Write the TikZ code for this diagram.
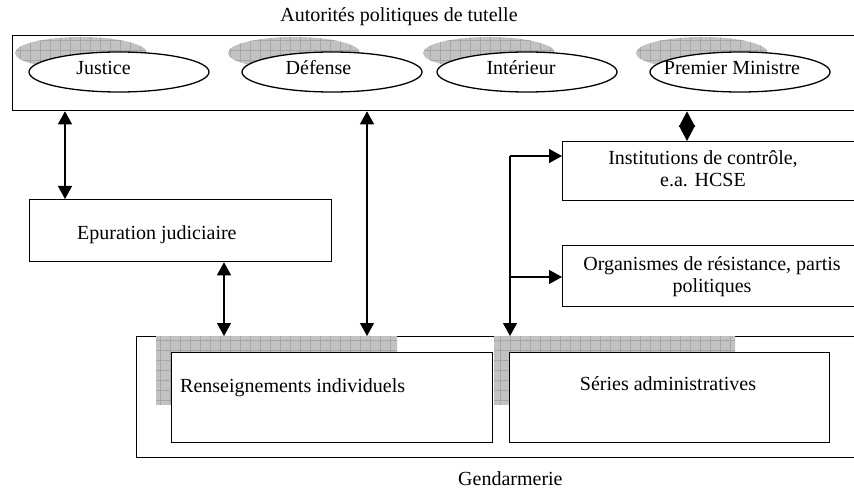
\documentclass[tikz,border=0pt]{standalone}
\usepackage{fontspec}
\setmainfont{Liberation Serif}
\usetikzlibrary{arrows.meta,shapes.geometric}
\tikzset{
  lw/.style={line width=1.3pt},
  box/.style={draw, lw, fill=white, rectangle, inner sep=0pt, anchor=north west},
  oval/.style={draw, lw, fill=white, ellipse, inner sep=0pt, minimum width=180pt, minimum height=40pt},
  txt/.style={font=\fontsize{20}{22.5}\selectfont, inner sep=0pt},
  shfill/.style={fill=gray!48},
  shgrid/.style={draw=gray!70, line width=0.6pt},
  con/.style={lw, {Triangle[length=13pt,width=14pt]}-{Triangle[length=13pt,width=14pt]}},
  oneway/.style={lw, -{Triangle[length=13pt,width=14pt]}},
  dia/.style={lw, {Triangle[length=15.5pt,width=16pt]}-{Triangle[length=15.5pt,width=16pt]}}
}
\begin{document}
\begin{tikzpicture}[x=1pt,y=-1pt]
\useasboundingbox (0,0) rectangle (854,489);
\clip (0,0) rectangle (854,489);
\fill[white] (0,0) rectangle (854,489);

% title
\node[txt, anchor=base] (title) at (399,22) {Autorités politiques de tutelle};

% top box
\node[box, minimum width=860pt, minimum height=75pt] (top) at (12,35) {};

% ellipse shadows
\foreach \cx in {119,332,527,740}{
  \begin{scope}
    \clip (\cx-38,53) ellipse [x radius=66, y radius=16];
    \fill[shfill] (\cx-110,30) rectangle (\cx+40,75);
    \draw[shgrid, step=10pt] (\cx-110,30) grid (\cx+40,75);
  \end{scope}
}
% ellipses
\node[oval] (jus) at (119,72) {};
\node[oval] (def) at (332,72) {};
\node[oval] (int) at (527,72) {};
\node[oval] (pm)  at (740,72) {};
\node[txt, anchor=base] (jusT) at (103.5,75) {Justice};
\node[txt, anchor=base] (defT) at (318.5,75) {Défense};
\node[txt, anchor=base] (intT) at (521,75) {Intérieur};
\node[txt, anchor=base] (pmT)  at (732,75) {Premier Ministre};

% epuration
\node[box, minimum width=302pt, minimum height=62pt] (epur) at (29,199) {};
\node[txt, anchor=base west] (epurT) at (77,240) {Epuration judiciaire};

% institutions
\node[box, minimum width=310pt, minimum height=59pt] (inst) at (562,141) {};
\node[txt, anchor=base, align=center] (instT) at (703,187) {Institutions de contrôle,\\e.a. HCSE};

% organismes
\node[box, minimum width=310pt, minimum height=61pt] (org) at (562,245) {};
\node[txt, anchor=base, align=center] (orgT) at (712,292.5) {Organismes de résistance, partis\\politiques};

% gendarmerie outer
\node[box, minimum width=740pt, minimum height=121pt] (gend) at (136,336) {};
\node[txt, anchor=base west] (gendT) at (458,485) {Gendarmerie};

% box shadows
\begin{scope}
  \clip (156,336) rectangle (397,404);
  \fill[shfill] (150,330) rectangle (400,410);
  \draw[shgrid, step=10pt] (150,330) grid (400,410);
\end{scope}
\begin{scope}
  \clip (494,336) rectangle (735,404);
  \fill[shfill] (490,330) rectangle (740,410);
  \draw[shgrid, step=10pt] (490,330) grid (740,410);
\end{scope}

% inner boxes
\node[box, minimum width=321pt, minimum height=90pt] (rens) at (171,352) {};
\node[txt, anchor=base west] (rensT) at (180,392) {Renseignements individuels};
\node[box, minimum width=320pt, minimum height=90pt] (ser) at (509,352) {};
\node[txt, anchor=base] (serT) at (668,390) {Séries administratives};

% connectors
\coordinate (jx) at (65,0);
\draw[con] (top.south -| jx) -- (epur.north -| jx);
\coordinate (ex) at (224,0);
\draw[con] (epur.south -| ex) -- (gend.north -| ex);
\coordinate (dx) at (367,0);
\draw[con] (top.south -| dx) -- (gend.north -| dx);
\coordinate (px) at (687,0);
\draw[dia] (top.south -| px) -- (inst.north -| px);
\coordinate (c1) at (510,156);
\coordinate (c2) at (510,277);
\draw[oneway] (c1) -- (c1 -| inst.west);
\draw[oneway] (c2) -- (c2 -| org.west);
\draw[oneway] (c1) -- (c1 |- gend.north);
\end{tikzpicture}
\end{document}
